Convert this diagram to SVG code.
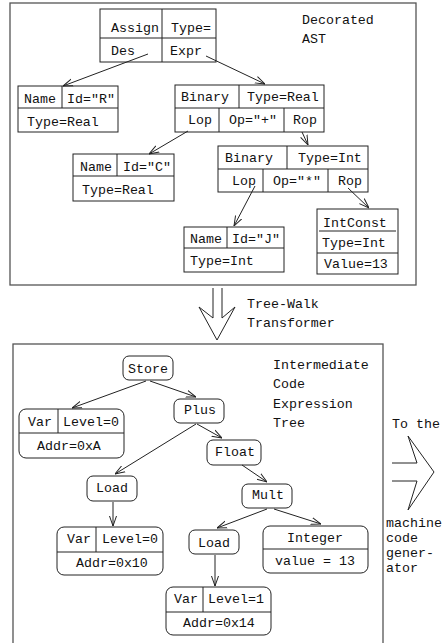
<svg xmlns="http://www.w3.org/2000/svg" width="442" height="643" viewBox="0 0 442 643">
<style>
text{font-family:"Liberation Mono","DejaVu Sans Mono",monospace;font-size:13.3px;fill:#111}
.b{fill:none;stroke:#222;stroke-width:1}
.f{fill:none;stroke:#555;stroke-width:1.3}
.c line{stroke:#222;stroke-width:1;marker-end:url(#ah)}
.m{text-anchor:middle}
</style>
<defs>
<marker id="ah" viewBox="0 0 10 10" refX="10" refY="5" markerWidth="10" markerHeight="10" markerUnits="userSpaceOnUse" orient="auto">
<path d="M0,1.5 L10,5 L0,8.5" fill="none" stroke="#222" stroke-width="1"/>
</marker>
</defs>
<rect width="442" height="643" fill="#fff"/>
<!-- frames -->
<g id="ast-frame">
<rect class="f" x="10" y="3" width="406" height="282"/>
<text x="302" y="24">Decorated</text>
<text x="302" y="43">AST</text>
</g>
<g id="ir-frame">
<rect class="f" x="13" y="344" width="370" height="320"/>
<text x="273" y="369">Intermediate</text>
<text x="273" y="388">Code</text>
<text x="273" y="408">Expression</text>
<text x="273" y="427">Tree</text>
</g>
<!-- AST nodes -->
<g id="assign">
<rect class="b" x="100" y="9" width="116" height="53"/>
<path class="b" d="M162,9V62M100,38H216"/>
<text x="111" y="32">Assign</text><text x="171" y="32">Type=</text>
<text x="111" y="55">Des</text><text x="170" y="55">Expr</text>
</g>
<g id="name-r">
<rect class="b" x="18" y="86" width="100" height="46"/>
<path class="b" d="M62,86V108M18,108H118"/>
<text x="24" y="103">Name</text><text x="67" y="103">Id="R"</text>
<text x="27" y="126">Type=Real</text>
</g>
<g id="binary-real">
<rect class="b" x="175" y="85" width="149" height="47"/>
<path class="b" d="M239,85V108M175,108H324M219,108V132M284,108V132"/>
<text x="181" y="101">Binary</text><text x="247" y="101">Type=Real</text>
<text x="188" y="124">Lop</text><text x="229" y="124">Op="+"</text><text x="293" y="124">Rop</text>
</g>
<g id="name-c">
<rect class="b" x="73" y="154" width="101" height="47"/>
<path class="b" d="M117,154V176M73,176H174"/>
<text x="80" y="171">Name</text><text x="123" y="171">Id="C"</text>
<text x="82" y="194">Type=Real</text>
</g>
<g id="binary-int">
<rect class="b" x="218" y="146" width="150" height="46"/>
<path class="b" d="M287,146V169M218,169H368M263,169V192M328,169V192"/>
<text x="225" y="162">Binary</text><text x="298" y="162">Type=Int</text>
<text x="232" y="185">Lop</text><text x="273" y="185">Op="*"</text><text x="338" y="185">Rop</text>
</g>
<g id="name-j">
<rect class="b" x="184" y="227" width="100" height="45"/>
<path class="b" d="M227,227V248M184,248H284"/>
<text x="190" y="243">Name</text><text x="232" y="243">Id="J"</text>
<text x="190" y="265">Type=Int</text>
</g>
<g id="intconst">
<rect class="b" x="317" y="209" width="81" height="65"/>
<path class="b" d="M319,231H396M317,253H398"/>
<text x="323" y="227">IntConst</text>
<text x="322" y="247">Type=Int</text>
<text x="324" y="268">Value=13</text>
</g>
<!-- transformation arrows -->
<g id="tree-walk">
<path class="b" d="M213,288V318L199,307L217,340L235,307L222,318V288"/>
<text x="247" y="308">Tree-Walk</text>
<text x="247" y="327">Transformer</text>
</g>
<g id="to-codegen">
<path class="b" d="M392,463H417L408,436L434,472L408,510L417,481H392"/>
<text x="392" y="428">To the</text>
<text x="386" y="527">machine</text>
<text x="386" y="542">code</text>
<text x="386" y="557">gener-</text>
<text x="386" y="572">ator</text>
</g>
<!-- IR nodes -->
<g id="store">
<rect class="b" x="123" y="356" width="50" height="24" rx="6"/>
<text class="m" x="148" y="373">Store</text>
</g>
<g id="plus">
<rect class="b" x="174" y="399" width="50" height="24" rx="6"/>
<text class="m" x="200" y="414">Plus</text>
</g>
<g id="var-a">
<rect class="b" x="19" y="409" width="105" height="49" rx="7"/>
<path class="b" d="M58,409V433M19,433H124"/>
<text x="28" y="426">Var</text><text x="63" y="426">Level=0</text>
<text x="37" y="450">Addr=0xA</text>
</g>
<g id="float">
<rect class="b" x="207" y="440" width="54" height="25" rx="6"/>
<text class="m" x="235" y="456">Float</text>
</g>
<g id="load1">
<rect class="b" x="87" y="476" width="50" height="25" rx="6"/>
<text class="m" x="112" y="492">Load</text>
</g>
<g id="mult">
<rect class="b" x="242" y="484" width="50" height="24" rx="6"/>
<text class="m" x="268" y="499">Mult</text>
</g>
<g id="var-10">
<rect class="b" x="57" y="527" width="106" height="48" rx="7"/>
<path class="b" d="M96,527V552M57,552H163"/>
<text x="67" y="543">Var</text><text x="102" y="543">Level=0</text>
<text x="76" y="567">Addr=0x10</text>
</g>
<g id="load2">
<rect class="b" x="189" y="530" width="50" height="24" rx="6"/>
<text class="m" x="214" y="547">Load</text>
</g>
<g id="integer">
<rect class="b" x="263" y="526" width="105" height="47" rx="7"/>
<path class="b" d="M263,549H368"/>
<text class="m" x="315" y="542">Integer</text>
<text class="m" x="315" y="565">value = 13</text>
</g>
<g id="var-14">
<rect class="b" x="166" y="587" width="105" height="48" rx="7"/>
<path class="b" d="M203,587V612M166,612H271"/>
<text x="174" y="603">Var</text><text x="208" y="603">Level=1</text>
<text x="183" y="627">Addr=0x14</text>
</g>
<!-- connectors -->
<g id="connectors" class="c">
<line x1="148" y1="54" x2="63" y2="86"/>
<line x1="206" y1="56" x2="265" y2="84"/>
<line x1="188" y1="131" x2="149" y2="154"/>
<line x1="302" y1="132" x2="308" y2="145"/>
<line x1="255" y1="186" x2="234" y2="226"/>
<line x1="348" y1="188" x2="369" y2="208"/>
<line x1="146" y1="381" x2="72" y2="408"/>
<line x1="150" y1="381" x2="196" y2="397"/>
<line x1="197" y1="424" x2="222" y2="438"/>
<line x1="196" y1="424" x2="115" y2="474"/>
<line x1="242" y1="465" x2="267" y2="482"/>
<line x1="113" y1="502" x2="113" y2="526"/>
<line x1="267" y1="509" x2="217" y2="528"/>
<line x1="274" y1="509" x2="321" y2="524"/>
<line x1="215" y1="555" x2="215" y2="586"/>
</g>
</svg>
